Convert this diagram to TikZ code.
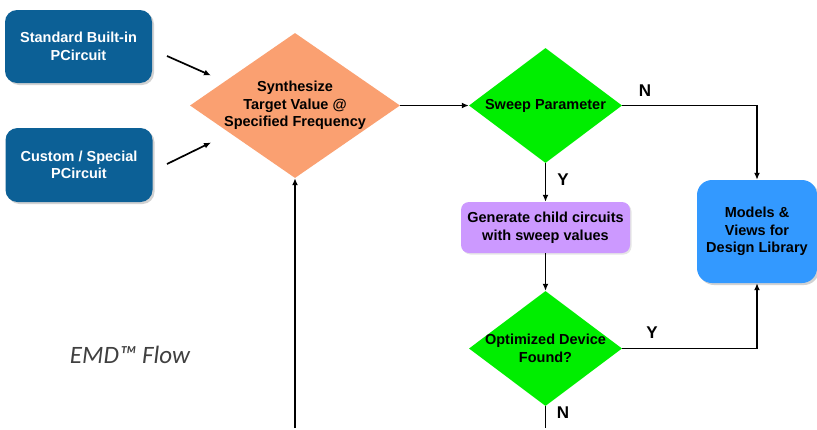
\documentclass[tikz,border=0pt]{standalone}
\usepackage{fontspec}
\setmainfont{Liberation Sans}
\newfontfamily\emdfont{Carlito}
\usetikzlibrary{shapes.geometric,arrows.meta,shadows}
\definecolor{darkbox}{RGB}{12,96,150}
\definecolor{orangedia}{RGB}{250,160,113}
\definecolor{greendia}{RGB}{0,238,0}
\definecolor{purplebox}{RGB}{204,153,255}
\definecolor{bluebox}{RGB}{51,153,255}
\definecolor{emdgray}{RGB}{64,64,64}
\tikzset{
  boxtext/.style={font=\fontsize{14.5}{17.5}\selectfont\bfseries, align=center},
  srcbox/.style={rectangle, rounded corners=12pt, fill=darkbox, text=white, boxtext,
     minimum width=147pt, minimum height=73pt, inner sep=0pt,
     drop shadow={shadow xshift=2pt, shadow yshift=-2pt, opacity=0.35, fill=gray}},
  diabox/.style={diamond, inner sep=0pt, draw=none},
  genbox/.style={rectangle, rounded corners=8pt, fill=purplebox, boxtext,
     minimum width=169pt, minimum height=51pt, inner sep=0pt,
     drop shadow={shadow xshift=1.5pt, shadow yshift=-1.5pt, opacity=0.2, fill=gray}},
  modbox/.style={rectangle, rounded corners=15pt, fill=bluebox, boxtext,
     minimum width=120pt, minimum height=103pt, inner sep=0pt,
     drop shadow={shadow xshift=2pt, shadow yshift=-2pt, opacity=0.35, fill=gray}},
  flow/.style={line width=1.7pt, -{Latex[length=7pt,width=6pt]}},
  plain/.style={line width=1.7pt},
  yn/.style={font=\fontsize{17}{17}\selectfont\bfseries}
}
\begin{document}
\begin{tikzpicture}[x=1pt,y=-1pt]
\useasboundingbox (0,0) rectangle (817,429);
\fill[white] (0,0) rectangle (817,429);

\node[srcbox] (std) at (78.5,46.5) {Standard Built-in\\PCircuit};
\node[srcbox, minimum height=74pt] (cust) at (79,165) {Custom / Special\\PCircuit};

\node[diabox, fill=orangedia, minimum width=210pt, minimum height=145pt,
      label={[boxtext, name=synthtext]center:Synthesize\\Target Value @\\Specified Frequency}] (synth) at (295,105.5) {};
\node[diabox, fill=greendia, minimum width=153pt, minimum height=115pt,
      label={[boxtext, name=sweeptext]center:Sweep Parameter}] (sweep) at (545.5,105.5) {};
\node[genbox] (gen) at (545.5,227.5) {Generate child circuits\\with sweep values};
\node[diabox, fill=greendia, minimum width=153pt, minimum height=115pt,
      label={[boxtext, name=opttext]center:Optimized Device\\Found?}] (opt) at (545.5,348.5) {};
\node[modbox] (models) at (757,231.5) {Models \&\\Views for\\Design Library};

\node[font=\emdfont\itshape\fontsize{25}{25}\selectfont, text=emdgray] (emd) at (130,355) {EMD™ Flow};

\coordinate (s1) at (167,56);
\coordinate (s2) at (211,75.5);
\coordinate (c1) at (167,164);
\coordinate (c2) at (211,142.5);
\coordinate (bl) at (295,428);
\coordinate (br) at (545.5,428);

\draw[flow] (s1) -- (s2);
\draw[flow] (c1) -- (c2);
\draw[flow] (synth.east) -- (sweep.west);
\draw[flow] (sweep.east) -| (models.north);
\draw[flow] (sweep.south) -- (gen.north);
\draw[flow] (gen.south) -- (opt.north);
\draw[flow] (opt.east) -| (models.south);
\draw[plain] (opt.south) -- (br);
\draw[flow] (bl) -- (synth.south);

\node[yn] (nlab1) at (645,91) {N};
\node[yn] (ylab1) at (563,180) {Y};
\node[yn] (ylab2) at (652,333) {Y};
\node[yn] (nlab2) at (563,413) {N};
\end{tikzpicture}
\end{document}
